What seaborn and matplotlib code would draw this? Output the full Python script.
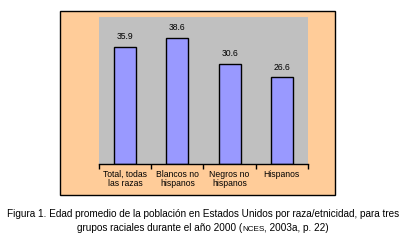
import numpy as np
import matplotlib
matplotlib.use("Agg")
import matplotlib.pyplot as plt
from matplotlib.patches import Rectangle
import seaborn as sns

categories = ["Total, todas\nlas razas", "Blancos no\nhispanos", "Negros no\nhispanos", "Hispanos"]
edad = [35.9, 38.6, 30.6, 26.6]
value_labels = ["35.9", "38.6", "30.6", "26.6"]

sns.set_style("white")
plt.rcParams["font.family"] = ["Liberation Sans", "DejaVu Sans"]
plt.rcParams["text.color"] = "black"
plt.rcParams["xtick.color"] = "black"
plt.rcParams["xtick.labelcolor"] = "black"

fig = plt.figure(figsize=(4.06, 2.4), dpi=100)
fig.patch.set_facecolor("white")

# orange chart-area box with black border
fig.patches.append(Rectangle((60 / 406, 45 / 240), 275 / 406, 184 / 240,
                             transform=fig.transFigure, facecolor="#FFCC99",
                             edgecolor="black", linewidth=1.0, zorder=-5))

ax = fig.add_axes([99 / 406, 76 / 240, 209 / 406, 147 / 240])
ax.set_zorder(1)
ax.set_facecolor("#C0C0C0")
sns.barplot(x=categories, y=edad, color="#9999FF", width=0.42,
            edgecolor="black", linewidth=1.0, saturation=1, ax=ax)
ax.set_xlim(-0.5, 3.5)
ax.set_ylim(0, 45)
for sp in ["top", "right", "left"]:
    ax.spines[sp].set_visible(False)
ax.spines["bottom"].set_color("black")
ax.spines["bottom"].set_linewidth(1.0)
ax.set_yticks([])
ax.set_xticks(np.arange(-0.5, 4, 1), minor=True)
ax.tick_params(axis="x", which="minor", bottom=True, length=3.5, width=1,
               color="black", direction="out")
ax.tick_params(axis="x", which="major", bottom=True, length=0, pad=4,
               labelsize=6.2, labelcolor="black")
for lbl in ax.get_xticklabels():
    lbl.set_verticalalignment("top")
    lbl.set_linespacing(1.1)

for i, (v, t) in enumerate(zip(edad, value_labels)):
    ax.annotate(t, (i, v), xytext=(0, 4), textcoords="offset points",
                ha="center", va="bottom", fontsize=6.2, color="black")

# caption
fig.text(0.5, 1 - 214 / 240,
         "Figura 1. Edad promedio de la población en Estados Unidos por raza/etnicidad, para tres",
         ha="center", va="center", fontsize=7.2, color="black")
y2 = 1 - 231 / 240
parts = [("grupos raciales durante el año 2000 (", 7.2),
         ("NCES", 5.9),
         (", 2003a, p. 22)", 7.2)]
texts = [fig.text(0, y2, s, ha="left", va="baseline", fontsize=fs, color="black")
         for s, fs in parts]
fig.canvas.draw()
r = fig.canvas.get_renderer()
widths = [t.get_window_extent(r).width for t in texts]
fw = fig.bbox.width
x0 = (fw - sum(widths)) / 2
for t, w in zip(texts, widths):
    t.set_x(x0 / fw)
    x0 += w

fig.savefig("out.png", dpi=100)
